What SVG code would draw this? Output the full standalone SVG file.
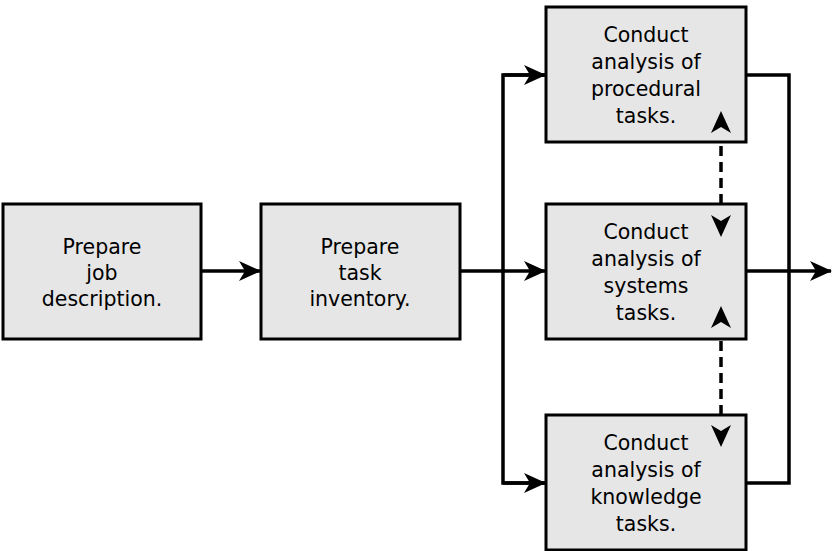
<svg xmlns="http://www.w3.org/2000/svg" width="832" height="551" viewBox="0 0 832 551">
<style>
.box{fill:#e6e6e6;stroke:#000;stroke-width:3}
.t{font-family:"DejaVu Sans","Open Sans",sans-serif;font-size:20.5px;fill:#000;text-anchor:middle}
.c{fill:none;stroke:#000;stroke-width:3.5}
.d{fill:none;stroke:#000;stroke-width:3.5;stroke-dasharray:10,6}
</style>
<defs>
<marker id="ah" markerUnits="userSpaceOnUse" markerWidth="22" markerHeight="20" refX="21" refY="10" orient="auto">
<path d="M0,0 L22,10 L0,20 L6,10 Z" fill="#000"/>
</marker>
</defs>
<rect width="832" height="551" fill="#fff"/>
<g id="connectors">
<line class="c" x1="201" y1="271" x2="260" y2="271" marker-end="url(#ah)"/>
<line class="c" x1="460" y1="271" x2="545" y2="271" marker-end="url(#ah)"/>
<polyline class="c" points="545,75 503,75 503,483 545,483"/>
<line class="c" x1="503" y1="75" x2="545" y2="75" marker-end="url(#ah)"/>
<line class="c" x1="503" y1="483" x2="545" y2="483" marker-end="url(#ah)"/>
<polyline class="c" points="746,75 789,75 789,483 746,483"/>
<line class="c" x1="746" y1="271" x2="831" y2="271" marker-end="url(#ah)"/>
<line class="d" x1="721" y1="130" x2="721" y2="218"/>
<line class="d" x1="721" y1="325" x2="721" y2="430"/>
</g>
<g id="n1"><rect class="box" x="3" y="204" width="198" height="135"/>
<text class="t" x="102" y="254">Prepare</text><text class="t" x="102" y="280">job</text><text class="t" x="102" y="306">description.</text></g>
<g id="n2"><rect class="box" x="261" y="204" width="199" height="135"/>
<text class="t" x="360" y="254">Prepare</text><text class="t" x="360" y="280">task</text><text class="t" x="360" y="306">inventory.</text></g>
<g id="n3"><rect class="box" x="546" y="7" width="200" height="135"/>
<text class="t" x="646" y="42">Conduct</text><text class="t" x="646" y="69">analysis of</text><text class="t" x="646" y="96">procedural</text><text class="t" x="646" y="123">tasks.</text></g>
<g id="n4"><rect class="box" x="546" y="204" width="200" height="135"/>
<text class="t" x="646" y="239">Conduct</text><text class="t" x="646" y="266">analysis of</text><text class="t" x="646" y="293">systems</text><text class="t" x="646" y="320">tasks.</text></g>
<g id="n5"><rect class="box" x="546" y="415" width="200" height="135"/>
<text class="t" x="646" y="450">Conduct</text><text class="t" x="646" y="477">analysis of</text><text class="t" x="646" y="504">knowledge</text><text class="t" x="646" y="531">tasks.</text></g>
<g id="dash-heads" fill="#000">
<path d="M721,111 L731,133 L721,127 L711,133 Z"/>
<path d="M721,237 L731,215 L721,221 L711,215 Z"/>
<path d="M721,306 L731,328 L721,322 L711,328 Z"/>
<path d="M721,447 L731,425 L721,431 L711,425 Z"/>
</g>
</svg>
